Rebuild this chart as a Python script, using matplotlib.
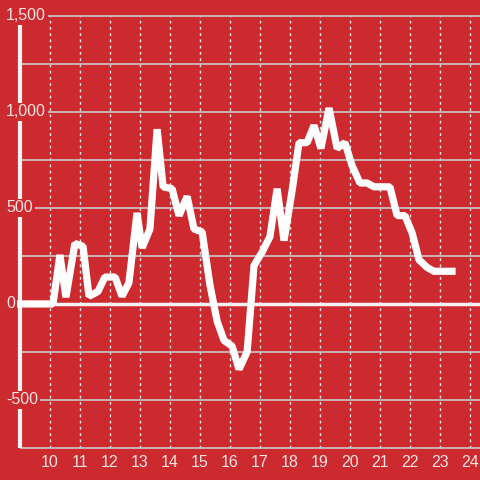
import matplotlib
matplotlib.use("Agg")
import matplotlib.pyplot as plt

# hour of day vs value
hours = [9.0, 10.1, 10.33, 10.53, 10.83, 11.1, 11.3, 11.6, 11.83, 12.17, 12.4,
         12.63, 12.9, 13.07, 13.33, 13.57, 13.77, 14.07, 14.3, 14.57, 14.8,
         15.07, 15.33, 15.57, 15.8, 16.07, 16.3, 16.57, 16.8, 17.07, 17.33,
         17.57, 17.8, 18.07, 18.3, 18.57, 18.8, 19.03, 19.3, 19.57, 19.83,
         20.07, 20.33, 20.57, 20.8, 21.07, 21.33, 21.57, 21.83, 22.07, 22.3,
         22.57, 22.8, 23.07, 23.4]
values = [0, 0, 255, 35, 315, 300, 40, 65, 140, 140, 40,
          110, 474, 292, 390, 910, 610, 600, 460, 560, 390,
          375, 100, -90, -190, -220, -340, -250, 200, 270, 350,
          600, 330, 590, 840, 840, 930, 810, 1020, 810, 840,
          720, 630, 630, 610, 610, 610, 460, 460, 370, 230,
          190, 170, 170, 170]

x_ticks = list(range(10, 25))
y_major = [1500, 1000, 500, 0, -500]
y_major_labels = ["1,500", "1,000", "500", "0", "-500"]
y_minor = [1250, 750, 250, -250, -750]

BG = "#cc2a2f"
GRID = "#c9c9c9"
TXT = "#f1e4e4"
WHITE = "#ffffff"

X0, X1 = 8.333, 24.333
Y0, Y1 = -917, 1583

fig = plt.figure(figsize=(4.8, 4.8), dpi=100, facecolor=BG)
ax = fig.add_axes([0, 0, 1, 1])
ax.set_facecolor(BG)
ax.set_xlim(X0, X1)
ax.set_ylim(Y0, Y1)
ax.axis("off")

# vertical dotted grid
ax.vlines(x_ticks, -750, 1500, colors="#e8e8e8", linestyles=(0, (2, 2.5)), lw=1, zorder=1)
# horizontal grid
ax.hlines([v for v in y_major if v != 0] + y_minor, 9.0, X1, colors=GRID, lw=1.2, zorder=1)
# zero line
ax.hlines(0, 8.9, X1, colors="#f3f3f3", lw=2.5, zorder=2)
# left axis line
ax.vlines(9.0, -750, 1458, colors="#f3f3f3", lw=3, zorder=2)

ax.plot(hours, values, color=WHITE, lw=5.2, solid_joinstyle="bevel", zorder=3)

font = dict(family=["Liberation Sans", "DejaVu Sans"], size=11.5, color=TXT)
for v, lab in zip(y_major, y_major_labels):
    ax.text(X0 + 0.2, v, lab, ha="left", va="center", zorder=4,
            bbox=dict(boxstyle="square,pad=0.12", fc=BG, ec="none"), **font)
for t in x_ticks:
    ax.text(t, -825, str(t), ha="center", va="center", zorder=4, **font)

fig.savefig("out.png", dpi=100, facecolor=BG)
